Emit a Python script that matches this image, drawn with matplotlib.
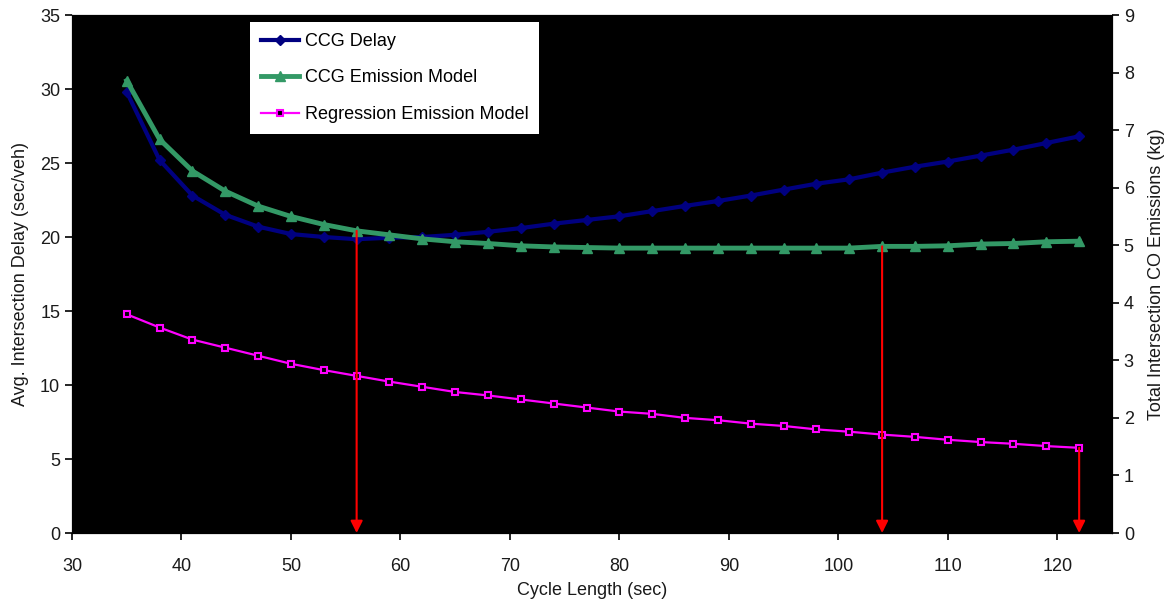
import matplotlib
matplotlib.use("Agg")
import matplotlib.pyplot as plt

plt.rcParams['font.family'] = ['Liberation Sans', 'DejaVu Sans']

cycle_length = [35, 38, 41, 44, 47, 50, 53, 56, 59, 62, 65, 68, 71, 74, 77,
                80, 83, 86, 89, 92, 95, 98, 101, 104, 107, 110, 113, 116, 119, 122]
ccg_delay = [29.8, 25.2, 22.8, 21.5, 20.7, 20.2, 20.0, 19.85, 19.95, 20.0, 20.15, 20.35,
             20.6, 20.9, 21.15, 21.4, 21.75, 22.1, 22.43, 22.8, 23.2, 23.6, 23.9, 24.35,
             24.75, 25.1, 25.5, 25.9, 26.35, 26.8]
ccg_emission = [7.86, 6.84, 6.29, 5.94, 5.68, 5.50, 5.36, 5.25, 5.18, 5.11, 5.06, 5.03,
                4.99, 4.97, 4.96, 4.95, 4.95, 4.95, 4.95, 4.95, 4.95, 4.95, 4.95, 4.98,
                4.98, 4.99, 5.02, 5.03, 5.06, 5.07]
regression_emission = [3.80, 3.57, 3.36, 3.22, 3.08, 2.94, 2.83, 2.73, 2.63, 2.54, 2.45, 2.39,
                       2.32, 2.25, 2.18, 2.11, 2.07, 2.00, 1.96, 1.90, 1.86, 1.80, 1.76, 1.71,
                       1.67, 1.62, 1.58, 1.55, 1.51, 1.48]

# arrows: (x position, which series they start from)
arrow_x = [56, 104, 122]
arrow_series = ['ccg', 'ccg', 'reg']

x_ticks = [30, 40, 50, 60, 70, 80, 90, 100, 110, 120]
left_ticks = [0, 5, 10, 15, 20, 25, 30, 35]
right_ticks = [0, 1, 2, 3, 4, 5, 6, 7, 8, 9]

fig = plt.figure(figsize=(11.73, 6.04), dpi=100)
ax = fig.add_axes([72 / 1173, 71 / 604, 1040 / 1173, 518 / 604])
ax.set_facecolor('black')
ax2 = ax.twinx()

l1, = ax.plot(cycle_length, ccg_delay, color='#000080', lw=3, marker='D', ms=5,
              markeredgecolor='#000080', markerfacecolor='#000080', label='CCG Delay')
l2, = ax2.plot(cycle_length, ccg_emission, color='#339966', lw=3.5, marker='^', ms=7,
               markeredgecolor='#339966', markerfacecolor='#339966', label='CCG Emission Model')
l3, = ax2.plot(cycle_length, regression_emission, color='#FF00FF', lw=1.6, marker='s', ms=5,
               markeredgecolor='#FF00FF', markerfacecolor='black', markeredgewidth=1.5,
               label='Regression Emission Model')

ax.set_xlim(30, 125)
ax.set_ylim(0, 35)
ax2.set_ylim(0, 9)
ax.set_xticks(x_ticks)
ax.set_yticks(left_ticks)
ax2.set_yticks(right_ticks)

for xa, s in zip(arrow_x, arrow_series):
    idx = cycle_length.index(xa)
    y0 = ccg_emission[idx] if s == 'ccg' else regression_emission[idx]
    ax2.annotate('', xy=(xa, 0), xytext=(xa, y0),
                 arrowprops=dict(arrowstyle='-|>', color='#FF0000', lw=1.5,
                                 mutation_scale=18, shrinkA=0, shrinkB=0),
                 annotation_clip=False)

for a in (ax, ax2):
    a.tick_params(axis='both', direction='out', length=5, width=1.2, labelsize=13,
                  colors='black', labelcolor='#1a1a1a')
ax.tick_params(axis='x', pad=13)

ax.set_xlabel('Cycle Length (sec)', fontsize=13, color='#1a1a1a', labelpad=5)
ax.set_ylabel('Avg. Intersection Delay (sec/veh)', fontsize=13, color='#1a1a1a', labelpad=8)
ax2.set_ylabel('Total Intersection CO Emissions (kg)', fontsize=13, color='#1a1a1a', labelpad=10)

leg = ax2.legend(handles=[l1, l2, l3], loc='upper left', bbox_to_anchor=(0.171, 0.9865),
                 fontsize=13, frameon=True, fancybox=False, framealpha=1,
                 edgecolor='white', facecolor='white', handlelength=2.1,
                 labelspacing=1.08, borderpad=0.6, handletextpad=0.35, borderaxespad=0)
leg.get_frame().set_linewidth(0)

fig.savefig('out.png', dpi=100, facecolor='white')
